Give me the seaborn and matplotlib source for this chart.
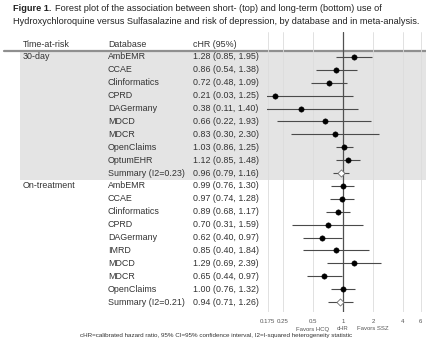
import numpy as np
import pandas as pd
import matplotlib.pyplot as plt
import seaborn as sns
from matplotlib.transforms import blended_transform_factory

sns.set_style('white')
plt.rcParams['font.family'] = ['Liberation Sans', 'DejaVu Sans']

# values
periods = ['30-day', 'On-treatment']
db_30 = ['AmbEMR', 'CCAE', 'Clinformatics', 'CPRD', 'DAGermany', 'MDCD', 'MDCR',
         'OpenClaims', 'OptumEHR', 'Summary (I2=0.23)']
hr_30 = [1.28, 0.86, 0.72, 0.21, 0.38, 0.66, 0.83, 1.03, 1.12, 0.96]
lo_30 = [0.85, 0.54, 0.48, 0.03, 0.11, 0.22, 0.30, 0.86, 0.85, 0.79]
hi_30 = [1.95, 1.38, 1.09, 1.25, 1.40, 1.93, 2.30, 1.25, 1.48, 1.16]

db_ot = ['AmbEMR', 'CCAE', 'Clinformatics', 'CPRD', 'DAGermany', 'IMRD', 'MDCD',
         'MDCR', 'OpenClaims', 'Summary (I2=0.21)']
hr_ot = [0.99, 0.97, 0.89, 0.70, 0.62, 0.85, 1.29, 0.65, 1.00, 0.94]
lo_ot = [0.76, 0.74, 0.68, 0.31, 0.40, 0.40, 0.69, 0.44, 0.76, 0.71]
hi_ot = [1.30, 1.28, 1.17, 1.59, 0.97, 1.84, 2.39, 0.97, 1.32, 1.26]

tick_vals = [0.175, 0.25, 0.5, 1, 2, 4, 6]
tick_labels = ['0.175', '0.25', '0.5', '1', '2', '4', '6']

df = pd.DataFrame({
    'period': [periods[0]] * len(db_30) + [periods[1]] * len(db_ot),
    'db': db_30 + db_ot,
    'hr': hr_30 + hr_ot,
    'lo': lo_30 + lo_ot,
    'hi': hi_30 + hi_ot,
})
df['row'] = np.arange(len(df))
df['summary'] = df['db'].str.startswith('Summary')

W, H = 426, 339
fig = plt.figure(figsize=(W / 100, H / 100), dpi=100)


def fy(px):
    return 1 - px / H


row0, step = 57, 12.9
top_px, bot_px = 32, 312
ylim = ((bot_px - row0) / step, (top_px - row0) / step)
txt = '#333333'
fs = 6.4

# table part
tab = fig.add_axes([0, fy(bot_px), 1, (bot_px - top_px) / H])
tab.set_xlim(0, W)
tab.set_ylim(*ylim)
tab.axis('off')
n30 = len(db_30)
tab.axhspan(-0.5, n30 - 0.5, xmin=20 / W, xmax=1, color='#e4e4e4', lw=0, zorder=0)
tab.axhline(-0.5, xmin=4 / W, xmax=1, color='#8f8f8f', lw=1.6, zorder=3)

tab.text(23, -1, 'Time-at-risk', fontsize=fs, color=txt, va='center')
tab.text(108, -1, 'Database', fontsize=fs, color=txt, va='center')
tab.text(193, -1, 'cHR (95%)', fontsize=fs, color=txt, va='center')
tab.text(23, 0, periods[0], fontsize=fs, color=txt, va='center')
tab.text(23, n30, periods[1], fontsize=fs, color=txt, va='center')
for r in df.itertuples():
    tab.text(108, r.row, r.db, fontsize=fs, color=txt, va='center')
    tab.text(193, r.row, f'{r.hr:.2f} ({r.lo:.2f}, {r.hi:.2f})', fontsize=fs,
             color=txt, va='center')

# forest part
x_left = 267
fa = fig.add_axes([x_left / W, fy(bot_px), (W - x_left) / W, (bot_px - top_px) / H])
fa.patch.set_alpha(0)
fa.set_xscale('log')
fa.set_xlim(2 ** ((x_left - 343) / 30), 2 ** ((W - 343) / 30))
fa.set_ylim(*ylim)
for v in tick_vals:
    fa.axvline(v, color='#dcdcdc', lw=0.6, zorder=0)
fa.axvline(1, color='#505050', lw=0.9, zorder=1)

fa.hlines(df['row'], df['lo'], df['hi'], color='#4a4a4a', lw=0.8, zorder=2)
sns.scatterplot(data=df[~df['summary']], x='hr', y='row', ax=fa, color='black',
                s=15, edgecolor='black', linewidth=0.3, zorder=3, legend=False)
sns.scatterplot(data=df[df['summary']], x='hr', y='row', ax=fa, color='white',
                marker='D', s=13, edgecolor='#6e6e6e', linewidth=0.6, zorder=3,
                legend=False)

fa.set_xticks(tick_vals)
fa.set_xticklabels(tick_labels)
fa.minorticks_off()
fa.set_yticks([])
fa.set_xlabel('')
fa.set_ylabel('')
fa.tick_params(axis='x', length=0, labelsize=4.4, colors='#555555', pad=5)
for s in fa.spines.values():
    s.set_visible(False)

tr = blended_transform_factory(fa.transData, fig.transFigure)
for xv, lab in [(0.5, 'Favors HCQ'), (1, 'cHR'), (2, 'Favors SSZ')]:
    fa.text(xv, fy(329), lab, transform=tr, ha='center', va='center',
            fontsize=4.3, color='#555555')

# titles and footnote
tfs = 6.6
bold = fig.text(13 / W, fy(11), 'Figure 1.', fontsize=tfs, fontweight='bold',
                color='#222222', va='baseline')
tab.annotate('Forest plot of the association between short- (top) and long-term (bottom) use of',
             xy=(1, 0), xycoords=bold, xytext=(2.5, 0), textcoords='offset points',
             fontsize=tfs, color='#222222', va='bottom', annotation_clip=False)
fig.text(13 / W, fy(24),
         'Hydroxychloroquine versus Sulfasalazine and risk of depression, by database and in meta-analysis.',
         fontsize=tfs, color='#222222', va='baseline')
fig.text(216 / W, fy(335),
         'cHR=calibrated hazard ratio, 95% CI=95% confidence interval, I2=I-squared heterogeneity statistic',
         fontsize=4.5, color='#333333', ha='center', va='center')

fig.savefig('out.png', dpi=100)
